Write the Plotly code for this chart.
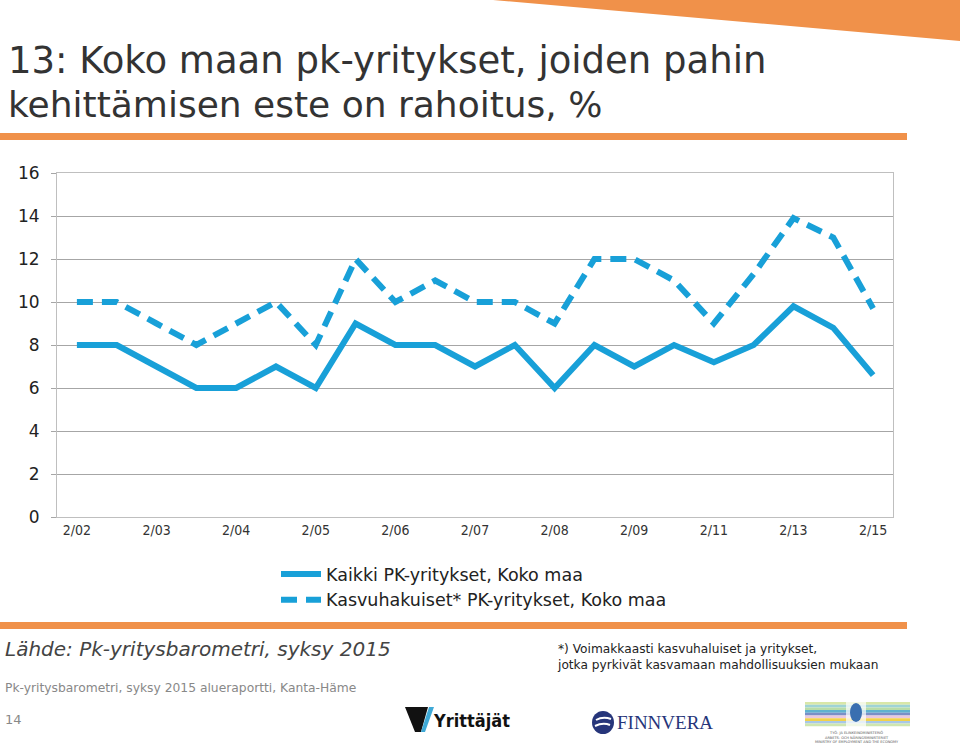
import plotly.graph_objects as go

periods = ["2/02", "1/03", "2/03", "1/04", "2/04", "1/05", "2/05", "1/06", "2/06", "1/07",
           "2/07", "1/08", "2/08", "1/09", "2/09", "2/10", "2/11", "2/12", "2/13", "2/14", "2/15"]
tick_labels = ["2/02", "2/03", "2/04", "2/05", "2/06", "2/07", "2/08", "2/09", "2/11", "2/13", "2/15"]
kaikki = [8, 8, 7, 6, 6, 7, 6, 9, 8, 8, 7, 8, 6, 8, 7, 8, 7.2, 8, 9.8, 8.8, 6.6]
kasvuhakuiset = [10, 10, 9, 8, 9, 10, 8, 12, 10, 11, 10, 10, 9, 12, 12, 11, 9, 11.3, 13.9, 13, 9.7]
name_kaikki = "Kaikki PK-yritykset, Koko maa"
name_kasvu = "Kasvuhakuiset* PK-yritykset, Koko maa"

BLUE = "#18A0D8"
ORANGE = "#F0914A"
FONT = "DejaVu Sans, sans-serif"
FONTC = "DejaVu Sans Condensed, DejaVu Sans, sans-serif"

fig = go.Figure()
fig.add_trace(go.Scatter(x=periods, y=kaikki, mode="lines", name=name_kaikki,
                         line=dict(color=BLUE, width=6)))
fig.add_trace(go.Scatter(x=periods, y=kasvuhakuiset, mode="lines", name=name_kasvu,
                         line=dict(color=BLUE, width=6, dash="16px,9px")))

W, H = 960, 744
l, r, t, b = 57, 67, 173, 227
pw, ph = W - l - r, H - t - b
def px(x):
    return (x - l) / pw
def py(y):
    return (H - b - y) / ph

fig.update_layout(
    width=W, height=H,
    margin=dict(l=l, r=r, t=t, b=b, autoexpand=False),
    paper_bgcolor="white", plot_bgcolor="white",
    font=dict(family=FONT, color="#333333"),
    showlegend=True,
    legend=dict(x=px(276), xanchor="left", y=py(556), yanchor="top",
                font=dict(size=17.5, color="#222222", family=FONT), tracegroupgap=0,
                itemwidth=40, bgcolor="rgba(0,0,0,0)"),
    xaxis=dict(type="category", categoryorder="array", categoryarray=periods,
               range=[-0.5, len(periods) - 0.5],
               tickmode="array", tickvals=tick_labels, ticktext=tick_labels,
               tickfont=dict(size=14, color="#333333", family=FONTC), ticks="",
               showgrid=False, showline=True, linecolor="#BFBFBF", linewidth=1,
               mirror=True, zeroline=False, fixedrange=True),
    yaxis=dict(range=[0, 16], dtick=2, tickfont=dict(size=17, color="#222222", family=FONT),
               ticks="outside", ticklen=5, tickcolor="#A6A6A6",
               ticklabelstandoff=8,
               showgrid=True, gridcolor="#A6A6A6", gridwidth=1,
               showline=True, linecolor="#BFBFBF", linewidth=1, mirror=True,
               zeroline=False, fixedrange=True),
)

shapes = []
shapes.append(dict(type="path", xref="paper", yref="paper",
                   path=f"M {px(493)} {py(0)} L {px(960)} {py(0)} L {px(960)} {py(41)} Z",
                   fillcolor=ORANGE, line=dict(width=0), layer="above"))
shapes.append(dict(type="rect", xref="paper", yref="paper",
                   x0=px(0), x1=px(907), y0=py(140), y1=py(133),
                   fillcolor=ORANGE, line=dict(width=0)))
shapes.append(dict(type="rect", xref="paper", yref="paper",
                   x0=px(0), x1=px(907), y0=py(629), y1=py(622),
                   fillcolor=ORANGE, line=dict(width=0)))
# Yrittäjät mark
shapes.append(dict(type="path", xref="paper", yref="paper",
                   path=f"M {px(405)} {py(707)} L {px(428)} {py(707)} L {px(421)} {py(732)} L {px(415)} {py(732)} Z",
                   fillcolor="#111111", line=dict(width=0)))
shapes.append(dict(type="path", xref="paper", yref="paper",
                   path=f"M {px(429)} {py(707)} L {px(434)} {py(707)} L {px(425)} {py(732)} L {px(421)} {py(732)} Z",
                   fillcolor="#3FA9D6", line=dict(width=0)))
# Finnvera circle
shapes.append(dict(type="circle", xref="paper", yref="paper",
                   x0=px(592), x1=px(614), y0=py(734), y1=py(711),
                   fillcolor="#26357A", line=dict(width=0)))
shapes.append(dict(type="path", xref="paper", yref="paper",
                   path=f"M {px(596)} {py(720)} Q {px(603)} {py(716)} {px(611)} {py(719)} M {px(595)} {py(726)} Q {px(603)} {py(722)} {px(610)} {py(725)}",
                   line=dict(color="white", width=2)))
# Ministry logo stripes
stripe_colors = ["#D9E7A8", "#9FD3D6", "#B8DCA8", "#5FB2D0", "#7A8FC7", "#E8C8E0",
                 "#F2D24B", "#A8C8E8", "#CFE6B0"]
y0s = 702
for i, c in enumerate(stripe_colors):
    shapes.append(dict(type="rect", xref="paper", yref="paper",
                       x0=px(805), x1=px(910), y0=py(y0s + (i + 1) * 2.7), y1=py(y0s + i * 2.7),
                       fillcolor=c, line=dict(width=0), layer="above"))
shapes.append(dict(type="rect", xref="paper", yref="paper",
                   x0=px(846), x1=px(866), y0=py(727), y1=py(701),
                   fillcolor="rgba(255,255,255,0.7)", line=dict(width=0), layer="above"))
shapes.append(dict(type="circle", xref="paper", yref="paper",
                   x0=px(850), x1=px(862), y0=py(722), y1=py(703),
                   fillcolor="#3A6FB0", line=dict(width=0), layer="above"))
fig.update_layout(shapes=shapes)

ann = []
ann.append(dict(text="13: Koko maan pk-yritykset, joiden pahin",
                x=px(6), y=py(60), xref="paper", yref="paper", xanchor="left", yanchor="middle",
                align="left", showarrow=False,
                font=dict(size=37, color="#333333", family=FONT)))
ann.append(dict(text="kehittämisen este on rahoitus, %",
                x=px(6), y=py(104), xref="paper", yref="paper", xanchor="left", yanchor="middle",
                align="left", showarrow=False,
                font=dict(size=36, color="#333333", family=FONT)))
ann.append(dict(text="<i>Lähde: Pk-yritysbarometri, syksy 2015</i>", x=px(3), y=py(649),
                xref="paper", yref="paper", xanchor="left", yanchor="middle", showarrow=False,
                font=dict(size=20, color="#444444", family=FONT)))
ann.append(dict(text="Pk-yritysbarometri, syksy 2015 alueraportti, Kanta-Häme", x=px(3), y=py(688),
                xref="paper", yref="paper", xanchor="left", yanchor="middle", showarrow=False,
                font=dict(size=12.3, color="#888888", family=FONT)))
ann.append(dict(text="14", x=px(3), y=py(719),
                xref="paper", yref="paper", xanchor="left", yanchor="middle", showarrow=False,
                font=dict(size=13, color="#888888", family=FONT)))
ann.append(dict(text="*) Voimakkaasti kasvuhaluiset ja yritykset,<br>jotka pyrkivät kasvamaan mahdollisuuksien mukaan",
                x=px(555), y=py(640), xref="paper", yref="paper", xanchor="left", yanchor="top",
                align="left", showarrow=False,
                font=dict(size=12.2, color="#222222", family=FONT)))
ann.append(dict(text="<b>Yrittäjät</b>", x=px(431), y=py(720), xref="paper", yref="paper",
                xanchor="left", yanchor="middle", showarrow=False,
                font=dict(size=18, color="#111111", family=FONTC)))
ann.append(dict(text="FINNVERA", x=px(615), y=py(722), xref="paper", yref="paper",
                xanchor="left", yanchor="middle", showarrow=False,
                font=dict(size=19, color="#26357A", family="Liberation Serif, serif")))
ann.append(dict(text="TYÖ- JA ELINKEINOMINISTERIÖ<br>ARBETS- OCH NÄRINGSMINISTERIET<br>MINISTRY OF EMPLOYMENT AND THE ECONOMY",
                x=px(857), y=py(728), xref="paper", yref="paper",
                xanchor="center", yanchor="top", showarrow=False,
                font=dict(size=3.5, color="#555555", family=FONT)))
fig.update_layout(annotations=ann)

fig.write_html("out.html", config={"displayModeBar": False},
               post_script="document.body.style.margin='0';document.body.style.overflow='hidden';")
